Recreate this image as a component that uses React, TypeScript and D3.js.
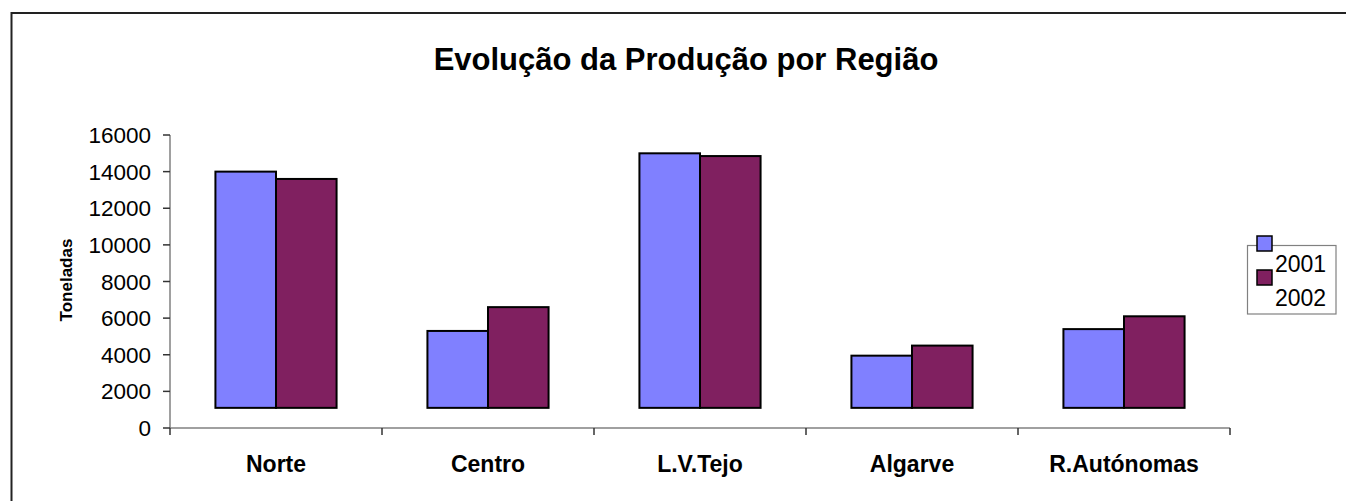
import React from "react";
import * as d3 from "d3";

const categories = ["Norte", "Centro", "L.V.Tejo", "Algarve", "R.Autónomas"];
const series2001 = [14000, 5300, 15000, 3950, 5400];
const series2002 = [13600, 6600, 14850, 4500, 6100];
const seriesNames = ["2001", "2002"];
const seriesColors = ["#8080FF", "#802060"];
const yTicks = [0, 2000, 4000, 6000, 8000, 10000, 12000, 14000, 16000];
const barBase = 1100;
const title = "Evolução da Produção por Região";
const yLabel = "Toneladas";

const W = 1346;
const H = 501;
const font = "'Liberation Sans', Arial, sans-serif";

export default function App() {
  const left = 170, right = 1230, top = 135, bottom = 428;
  const x = d3.scaleBand<string>().domain(categories).range([left, right]).paddingInner(0);
  const y = d3.scaleLinear().domain([0, 16000]).range([bottom, top]);
  const inner = d3.scaleBand<string>().domain(seriesNames).range([0, x.bandwidth()]).paddingInner(0).paddingOuter(0.75);
  const allSeries = [series2001, series2002];
  const bw = x.bandwidth();

  return (
    <svg width={W} height={H} style={{ position: "absolute", left: 0, top: 0, background: "#fff" }}>
      <rect x={11.5} y={13} width={W + 20} height={H + 20} fill="#fff" stroke="#222" strokeWidth={2} />
      <text x={686} y={70} textAnchor="middle" fontFamily={font} fontWeight="bold" fontSize={31}>{title}</text>

      {/* bars */}
      {categories.map((c, i) =>
        allSeries.map((s, j) => {
          const bx = (x(c) as number) + (inner(seriesNames[j]) as number);
          const yt = y(s[i]);
          const yb = y(barBase);
          return (
            <rect key={c + j} x={bx} y={yt} width={inner.bandwidth()} height={yb - yt}
              fill={seriesColors[j]} stroke="#000" strokeWidth={2} />
          );
        })
      )}

      {/* y axis */}
      <line x1={left} x2={left} y1={top} y2={bottom} stroke="#808080" strokeWidth={1.5} />
      {yTicks.map((t) => (
        <g key={t}>
          <line x1={left - 7} x2={left} y1={y(t)} y2={y(t)} stroke="#333" strokeWidth={1.5} />
          <text x={151} y={y(t)} dy="0.36em" textAnchor="end" fontFamily={font} fontSize={22.5}>{t}</text>
        </g>
      ))}
      <text transform={`translate(72,280) rotate(-90)`} textAnchor="middle" fontFamily={font} fontWeight="bold" fontSize={17}>{yLabel}</text>

      {/* x axis */}
      <line x1={left} x2={right} y1={bottom} y2={bottom} stroke="#808080" strokeWidth={1.5} />
      {[...categories.map((c) => x(c) as number), right].map((xv, k) => (
        <line key={k} x1={xv} x2={xv} y1={bottom} y2={bottom + 7} stroke="#333" strokeWidth={1.5} />
      ))}
      {categories.map((c) => (
        <text key={c} x={(x(c) as number) + bw / 2} y={472} textAnchor="middle" fontFamily={font} fontWeight="bold" fontSize={23}>{c}</text>
      ))}

      {/* legend */}
      <rect x={1247.5} y={245.5} width={88.5} height={68.5} fill="#fff" stroke="#808080" strokeWidth={1.2} />
      {seriesNames.map((n, j) => (
        <g key={n}>
          <rect x={1257} y={236 + j * 34} width={15} height={15} fill={seriesColors[j]} stroke="#000" strokeWidth={1.5} />
          <text x={1275} y={272 + j * 33.5} fontFamily={font} fontSize={23}>{n}</text>
        </g>
      ))}
    </svg>
  );
}
